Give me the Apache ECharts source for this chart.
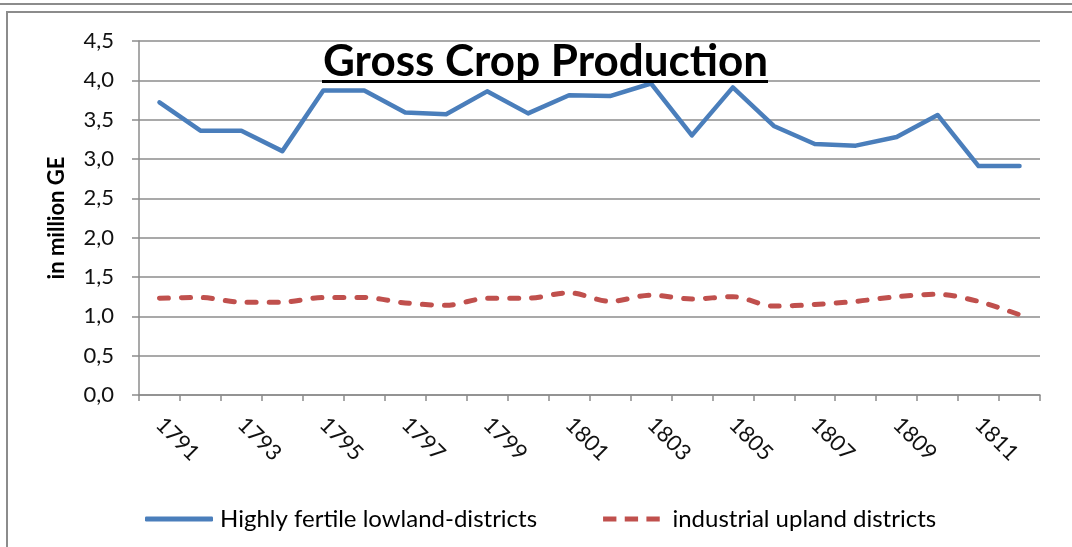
<!DOCTYPE html>
<html>
<head>
<meta charset="utf-8">
<script src="https://cdn.jsdelivr.net/npm/echarts@6/dist/echarts.min.js"></script>
<style>
  html, body { margin: 0; padding: 0; background: #fff; }
  #chart { width: 1072px; height: 547px; }
</style>
</head>
<body>
<div id="chart"></div>
<script>
const years = ['1791','1792','1793','1794','1795','1796','1797','1798','1799','1800','1801','1802','1803','1804','1805','1806','1807','1808','1809','1810','1811','1812'];
const lowland = [3.72, 3.36, 3.36, 3.10, 3.87, 3.87, 3.59, 3.57, 3.86, 3.58, 3.81, 3.80, 3.96, 3.30, 3.91, 3.42, 3.19, 3.17, 3.28, 3.56, 2.91, 2.91];
const upland = [1.23, 1.24, 1.18, 1.18, 1.24, 1.24, 1.17, 1.14, 1.23, 1.23, 1.30, 1.19, 1.27, 1.22, 1.25, 1.13, 1.15, 1.19, 1.25, 1.28, 1.19, 1.02];
const seriesNames = ['Highly fertile lowland-districts', 'industrial upland districts'];
const titleText = 'Gross Crop Production';
const yAxisName = 'in million GE';

const FONT = 'Lato';
const BLUE = '#4a7ebb';
const RED = '#c0504d';
const chart = echarts.init(document.getElementById('chart'));
chart.setOption({
  animation: false,
  backgroundColor: '#fff',
  title: {
    text: titleText,
    left: 318,
    top: 35,
    textStyle: { fontFamily: FONT, fontWeight: 'bold', fontSize: 44, color: '#000' }
  },
  graphic: [
    { type: 'rect', shape: { x: 322, y: 80, width: 446, height: 3 }, style: { fill: '#000' }, z: 10 },
    { type: 'line', shape: { x1: 0, y1: 4, x2: 1072, y2: 4 }, style: { stroke: '#8c8c8c', lineWidth: 2 } },
    { type: 'line', shape: { x1: 6, y1: 12, x2: 1072, y2: 12 }, style: { stroke: '#8c8c8c', lineWidth: 2 } },
    { type: 'line', shape: { x1: 7, y1: 12, x2: 7, y2: 547 }, style: { stroke: '#8c8c8c', lineWidth: 2 } }
  ],
  grid: { left: 139, right: 32, top: 41, bottom: 152 },
  legend: {
    left: 140,
    top: 502,
    itemWidth: 68,
    itemHeight: 5,
    itemGap: 66,
    textStyle: { fontFamily: FONT, fontSize: 24, color: '#000', padding: [0, 0, 0, 2] },
    data: [
      { name: seriesNames[0], icon: 'roundRect', itemStyle: { color: BLUE } },
      { name: seriesNames[1], icon: 'path://M0,0H16V6H0Z M26,0H42V6H26Z M52,0H68V6H52Z', itemStyle: { color: RED } }
    ]
  },
  xAxis: {
    type: 'category',
    data: years,
    boundaryGap: true,
    axisLine: { lineStyle: { color: '#8c8c8c', width: 1.5 } },
    axisTick: { show: true, interval: 0, length: 6, lineStyle: { color: '#8c8c8c', width: 1.5 } },
    axisLabel: { interval: 1, rotate: -45, margin: 26, fontFamily: FONT, fontSize: 22, color: '#111' },
    splitLine: { show: false }
  },
  yAxis: {
    type: 'value',
    min: 0,
    max: 4.5,
    interval: 0.5,
    name: yAxisName,
    nameLocation: 'middle',
    nameGap: 71,
    nameTextStyle: { fontFamily: FONT, fontWeight: 'bold', fontSize: 22, color: '#000' },
    axisLine: { show: true, lineStyle: { color: '#8c8c8c', width: 1.5 } },
    axisTick: { show: true, length: 7, lineStyle: { color: '#8c8c8c', width: 1.5 } },
    axisLabel: { margin: 25, fontFamily: FONT, fontSize: 22, color: '#111',
      formatter: v => v.toFixed(1).replace('.', ',') },
    splitLine: { show: true, lineStyle: { color: '#8c8c8c', width: 1.5 } }
  },
  series: [
    {
      name: seriesNames[0],
      type: 'line',
      data: lowland,
      symbol: 'none',
      lineStyle: { color: BLUE, width: 4.5, cap: 'round', join: 'round' },
      itemStyle: { color: BLUE }
    },
    {
      name: seriesNames[1],
      type: 'line',
      data: upland,
      symbol: 'none',
      smooth: 0.3,
      lineStyle: { color: RED, width: 5, type: [9, 13], cap: 'round', join: 'round' },
      itemStyle: { color: RED }
    }
  ]
});
</script>
</body>
</html>
